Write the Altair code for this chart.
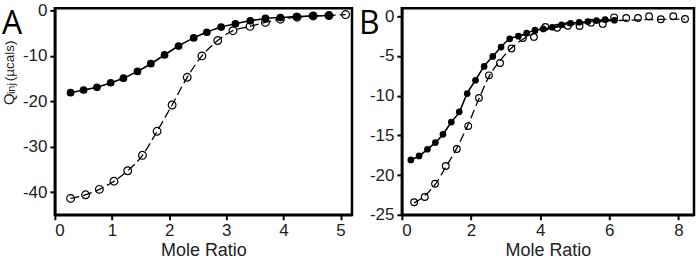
import altair as alt
import pandas as pd

# ---- Panel A: heat per injection vs. molar ratio ----
a_filled_x = [0.275, 0.503, 0.737, 0.977, 1.20, 1.446, 1.68, 1.92, 2.165, 2.43,
              2.66, 2.91, 3.16, 3.42, 3.685, 3.947, 4.23, 4.52, 4.797]
a_filled_q = [-18.1, -17.5, -16.9, -15.9, -14.9, -13.4, -11.7, -9.76, -7.81, -6.01,
              -4.77, -3.62, -2.90, -2.25, -1.73, -1.52, -1.30, -1.17, -1.08]
a_open_x = [0.276, 0.538, 0.779, 1.035, 1.275, 1.533, 1.789, 2.052, 2.316, 2.574,
            2.85, 3.117, 3.416, 3.685, 3.947, 4.24, 4.52, 4.797, 5.088]
a_open_q = [-41.4, -40.6, -39.4, -37.6, -35.3, -31.9, -26.6, -20.8, -14.7, -9.98,
            -6.6, -4.42, -3.47, -2.60, -1.89, -1.45, -1.17, -1.08, -0.87]

# ---- Panel B ----
b_filled_x = [0.26, 0.50, 0.74, 0.97, 1.19, 1.43, 1.66, 1.89, 2.13, 2.38, 2.63, 2.87,
              3.12, 3.37, 3.61, 3.85, 4.09, 4.35, 4.62, 4.88, 5.13, 5.38, 5.63, 5.88, 6.15]
b_filled_q = [-18.09, -17.59, -16.75, -15.91, -14.87, -13.33, -12.03, -9.73, -8.06, -6.31,
              -5.05, -3.88, -2.84, -2.51, -2.13, -1.75, -1.59, -1.38, -1.09, -0.88,
              -0.75, -0.67, -0.54, -0.42, -0.50]
b_open_x = [0.355, 0.663, 0.96, 1.27, 1.59, 1.92, 2.23, 2.52, 2.84, 3.17, 3.50, 3.82, 4.15,
            4.49, 4.80, 5.14, 5.47, 5.81, 6.14, 6.49, 6.83, 7.15, 7.49, 7.85, 8.19]
b_open_q = [-23.43, -22.77, -21.1, -18.85, -16.72, -13.83, -10.28, -7.44, -5.89, -4.05,
            -2.75, -2.60, -1.35, -1.45, -1.20, -1.22, -0.80, -0.96, -0.13, -0.21,
            -0.21, 0.0, -0.38, 0.0, -0.34]
# fitted curve for the open-circle titration
b_open_fit_q = [-23.5, -22.6, -21.2, -19.0, -16.6, -13.6, -10.4, -7.6, -5.6, -4.0,
                -2.9, -2.2, -1.7, -1.35, -1.1, -0.9, -0.75, -0.65, -0.55, -0.5,
                -0.45, -0.42, -0.4, -0.38, -0.36]

FONT = "Liberation Sans"


def frame(x, q, fit=None):
    return pd.DataFrame({"x": x, "q": q, "fit": fit if fit is not None else q})


def panel(filled, opened, xdom, xticks, ydom, yticks, w, h, size):
    xenc = alt.X("x:Q", scale=alt.Scale(domain=xdom, nice=False, zero=False),
                 axis=alt.Axis(values=xticks, title="Mole Ratio", labelExpr="'' + datum.value"))
    yenc = alt.Y("q:Q", scale=alt.Scale(domain=ydom, nice=False, zero=False),
                 axis=alt.Axis(values=yticks, title=None, labelExpr="'' + datum.value"))
    yfit = alt.Y("fit:Q")

    f_line = alt.Chart(filled).mark_line(color="black", strokeWidth=1.6,
                                         interpolate="monotone").encode(x=xenc, y=yenc)
    f_pts = alt.Chart(filled).mark_point(filled=True, color="black", size=size,
                                         opacity=1).encode(x="x:Q", y="q:Q")
    o_line = alt.Chart(opened).mark_line(color="black", strokeWidth=1.3,
                                         strokeDash=[9, 4],
                                         interpolate="monotone").encode(x="x:Q", y=yfit)
    o_pts = alt.Chart(opened).mark_point(filled=False, color="black", size=size,
                                         strokeWidth=1.2, opacity=1).encode(x="x:Q", y="q:Q")
    return alt.layer(o_line, o_pts, f_line, f_pts).properties(width=w, height=h)


def letter(ch, xpos):
    return alt.Chart(pd.DataFrame({"t": [ch]})).mark_text(
        font="Open Sans", fontSize=32, align="left", baseline="alphabetic", color="black"
    ).encode(text="t:N", x=alt.value(xpos), y=alt.value(26))


def ytitle():
    parts = [("Q", 15, -41, 97), ("inj", 11, -40, 86), ("(\u00b5cals)", 13.5, -41, 73)]
    layers = []
    for t, fs, xv, yv in parts:
        layers.append(alt.Chart(pd.DataFrame({"t": [t]})).mark_text(
            font=FONT, fontSize=fs, angle=270, align="left", baseline="alphabetic",
            color="#222"
        ).encode(text="t:N", x=alt.value(xv), y=alt.value(yv)))
    return layers


panel_a = alt.layer(
    panel(frame(a_filled_x, a_filled_q), frame(a_open_x, a_open_q),
          [0, 5.2], [0, 1, 2, 3, 4, 5], [-45, 0.5], [0, -10, -20, -30, -40], 298, 207, 60),
    letter("A", -53), *ytitle()
)

panel_b = alt.layer(
    panel(frame(b_filled_x, b_filled_q), frame(b_open_x, b_open_q, b_open_fit_q),
          [0, 8.45], list(range(9)), [-25, 1], [0, -5, -10, -15, -20, -25], 293, 207, 45),
    letter("B", -43)
)

chart = alt.hconcat(panel_a, panel_b, spacing=50, bounds="flush").properties(
    padding={"left": 0, "top": 0, "right": 0, "bottom": 0}
).configure_view(
    stroke="black", strokeWidth=2.5
).configure_axis(
    grid=False, domainColor="black", domainWidth=2.5, tickColor="black", tickWidth=2,
    tickSize=5, labelFont=FONT, labelFontSize=17, labelColor="#222", labelPadding=3,
    titleFont=FONT, titleFontSize=18, titleFontWeight="normal", titleColor="#222",
    titlePadding=3
)

chart.save("out.html", embed_options={"renderer": "svg", "actions": False})
